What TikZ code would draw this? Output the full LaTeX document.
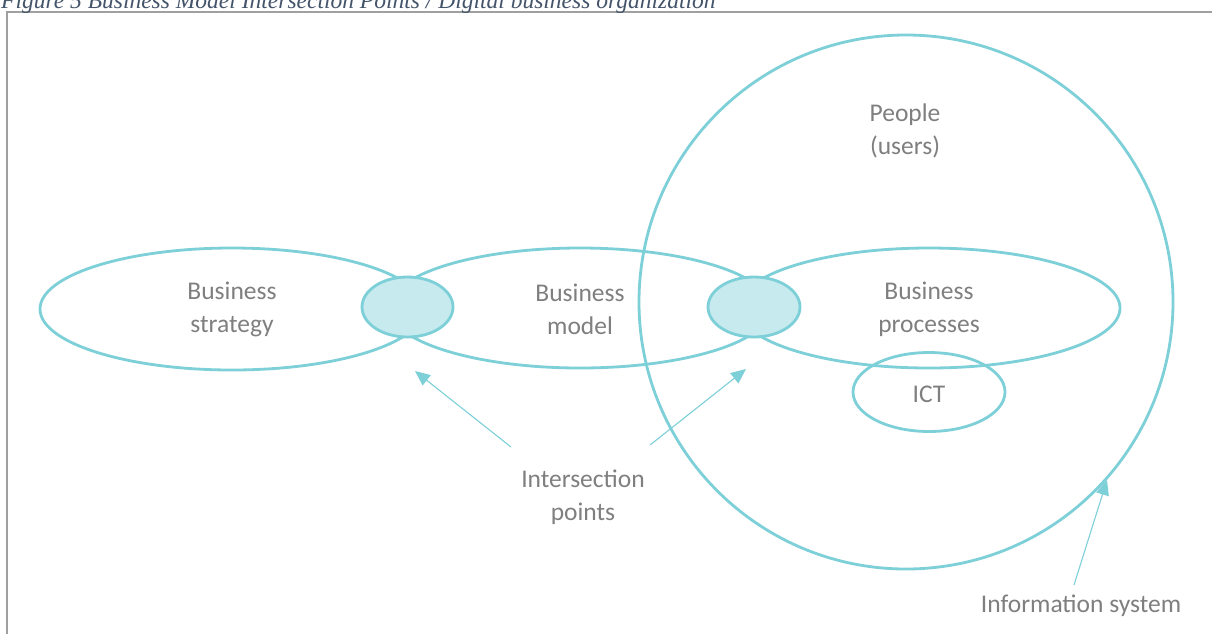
\documentclass[tikz,border=0pt]{standalone}
\usepackage{fontspec}
\setmainfont{Carlito}
\newfontfamily\capfont{Liberation Serif}
\usetikzlibrary{shapes.geometric,arrows.meta}
\definecolor{teal1}{RGB}{125,207,216}
\definecolor{tealfill}{RGB}{198,234,238}
\definecolor{txtgray}{RGB}{127,127,127}
\definecolor{capcol}{RGB}{68,84,106}
\definecolor{framegray}{RGB}{160,160,160}
\tikzset{
  oval/.style={ellipse, draw=teal1, line width=2.8pt, inner sep=0pt},
  hub/.style={oval, fill=tealfill},
  lbl/.style={font=\fontsize{25.5}{33}\selectfont, text=txtgray, align=center, inner sep=0pt},
  pointer/.style={draw=teal1, line width=1.1pt, -{Triangle[length=15pt,width=13pt]}}
}
\begin{document}
\begin{tikzpicture}[x=1pt,y=-1pt]
\useasboundingbox (0,0) rectangle (1212,633);
\clip (0,0) rectangle (1212,633);
\fill[white] (0,0) rectangle (1212,633);
% frame
\draw[framegray, line width=2pt] (7,634) -- (7,12) -- (1213,12);
% caption
\node[anchor=base west, inner sep=0pt, text=capcol, font=\capfont\itshape\fontsize{23.5}{26}\selectfont] (cap) at (1,8.5) {Figure 5 Business Model Intersection Points / Digital business organization};
% ovals
\node[oval, minimum width=384pt, minimum height=122pt] (strat) at (232,309) {};
\node[oval, minimum width=382pt, minimum height=120pt] (model) at (580,308) {};
\node[oval, minimum width=382pt, minimum height=120pt] (proc) at (929,308) {};
\node[oval, minimum width=152pt, minimum height=79pt] (ict) at (929,392) {};
\node[circle, draw=teal1, line width=2.8pt, inner sep=0pt, minimum size=534pt] (is) at (906,302) {};
\node[hub, minimum width=91pt, minimum height=60pt] (i1) at (407.5,307) {};
\node[hub, minimum width=92pt, minimum height=60pt] (i2) at (754,307) {};
% labels
\node[lbl] (tstrat) at (232,309) {Business\\strategy};
\node[lbl] (tmodel) at (580,309) {Business\\model};
\node[lbl] (tproc) at (929,309) {Business\\processes};
\node[lbl] (tict) at (929,394) {ICT};
\node[lbl] (tpeople) at (905,131) {People\\(users)};
\node[lbl] (tinter) at (583,497) {Intersection\\points};
\node[lbl] (tinfo) at (1081,606) {Information system};
% pointers
\coordinate (s1) at (511,447);
\coordinate (e1) at (415,371);
\coordinate (s2) at (650,445);
\coordinate (e2) at (746,369);
\coordinate (s3) at (1074,585);
\coordinate (e3) at (1107,480);
\draw[pointer] (s1) -- (e1);
\draw[pointer] (s2) -- (e2);
\draw[pointer] (s3) -- (e3);
\end{tikzpicture}
\end{document}
